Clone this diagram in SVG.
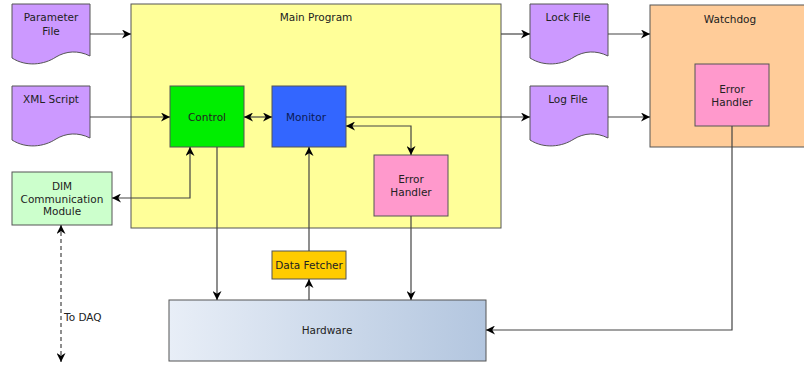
<svg xmlns="http://www.w3.org/2000/svg" width="804" height="367" viewBox="0 0 804 367">
<style>
text{font-family:"DejaVu Sans","Liberation Sans",sans-serif;font-size:10.5px;fill:#222;text-anchor:middle;dominant-baseline:central}
.doc{fill:#cc99ff;stroke:#555;stroke-width:1}
.box{stroke:#555;stroke-width:1}
.c{fill:none;stroke:#444;stroke-width:1.2}
</style>
<defs>
<marker id="a" viewBox="0 0 10 10" refX="10" refY="5" markerWidth="9" markerHeight="9" markerUnits="userSpaceOnUse" orient="auto-start-reverse">
<path d="M0,0 L10,5 L0,10 L3,5 Z" fill="#000"/>
</marker>
<linearGradient id="hw" x1="0" y1="0" x2="1" y2="0">
<stop offset="0" stop-color="#e8eef7"/>
<stop offset="1" stop-color="#b3c6df"/>
</linearGradient>
</defs>

<g id="main-program"><rect class="box" x="131" y="4" width="370" height="224" fill="#ffff99"/><text x="316" y="17">Main Program</text></g>
<g id="watchdog"><rect class="box" x="650" y="5" width="160" height="142" fill="#ffcc99"/><text x="730" y="19">Watchdog</text></g>

<g id="parameter-file"><path class="doc" d="M12,4 H90 V56 C78,50 66,51 56,57 C44,65 26,67 12,58 Z"/><text x="51" y="17">Parameter</text><text x="51" y="31">File</text></g>
<g id="xml-script"><path class="doc" d="M12,86 H90 V138 C78,132 66,133 56,139 C44,147 26,149 12,140 Z"/><text x="51" y="99">XML Script</text></g>
<g id="lock-file"><path class="doc" d="M530,4 H608 V56 C596,50 584,51 574,57 C562,65 544,67 530,58 Z"/><text x="568" y="17">Lock File</text></g>
<g id="log-file"><path class="doc" d="M530,86 H608 V138 C596,132 584,133 574,139 C562,147 544,149 530,140 Z"/><text x="568" y="99">Log File</text></g>

<g id="control"><rect class="box" x="170" y="86" width="74" height="61" fill="#00ee00"/><text x="207" y="117">Control</text></g>
<g id="monitor"><rect class="box" x="272" y="86" width="74" height="61" fill="#3366ff"/><text x="306" y="117" style="fill:#0a1a55">Monitor</text></g>
<g id="error-handler"><rect class="box" x="374" y="155" width="74" height="61" fill="#ff99cc"/><text x="411" y="179">Error</text><text x="411" y="192">Handler</text></g>
<g id="watchdog-error-handler"><rect class="box" x="695" y="64" width="74" height="62" fill="#ff99cc"/><text x="732" y="89">Error</text><text x="732" y="102">Handler</text></g>
<g id="dim"><rect class="box" x="12" y="172" width="100" height="53" fill="#ccffcc"/><text x="62" y="186">DIM</text><text x="62" y="199">Communication</text><text x="62" y="211">Module</text></g>
<g id="data-fetcher"><rect class="box" x="272" y="251" width="74" height="28" fill="#ffcc00"/><text x="309" y="265">Data Fetcher</text></g>
<g id="hardware"><rect class="box" x="169" y="300" width="317" height="61" fill="url(#hw)"/><text x="327" y="330">Hardware</text></g>

<g id="connectors">
<path class="c" d="M90,34 H131" marker-end="url(#a)"/>
<path class="c" d="M90,117 H170" marker-end="url(#a)"/>
<path class="c" d="M244,117 H272" marker-start="url(#a)" marker-end="url(#a)"/>
<path class="c" d="M346,117 H530" marker-end="url(#a)"/>
<path class="c" d="M501,34 H530" marker-end="url(#a)"/>
<path class="c" d="M608,34 H650" marker-end="url(#a)"/>
<path class="c" d="M608,117 H650" marker-end="url(#a)"/>
<path class="c" d="M346,126 H411 V155" marker-start="url(#a)" marker-end="url(#a)"/>
<path class="c" d="M190,147 V198 H112" marker-start="url(#a)" marker-end="url(#a)"/>
<path class="c" d="M217,147 V300" marker-end="url(#a)"/>
<path class="c" d="M309,251 V147" marker-end="url(#a)"/>
<path class="c" d="M309,300 V279" marker-end="url(#a)"/>
<path class="c" d="M411,216 V300" marker-end="url(#a)"/>
<path class="c" d="M732,126 V330 H486" marker-end="url(#a)"/>
<path class="c" d="M61,225 V362" stroke-dasharray="4,3" marker-start="url(#a)" marker-end="url(#a)"/>
<text x="64" y="317" style="text-anchor:start">To DAQ</text>
</g>
</svg>
